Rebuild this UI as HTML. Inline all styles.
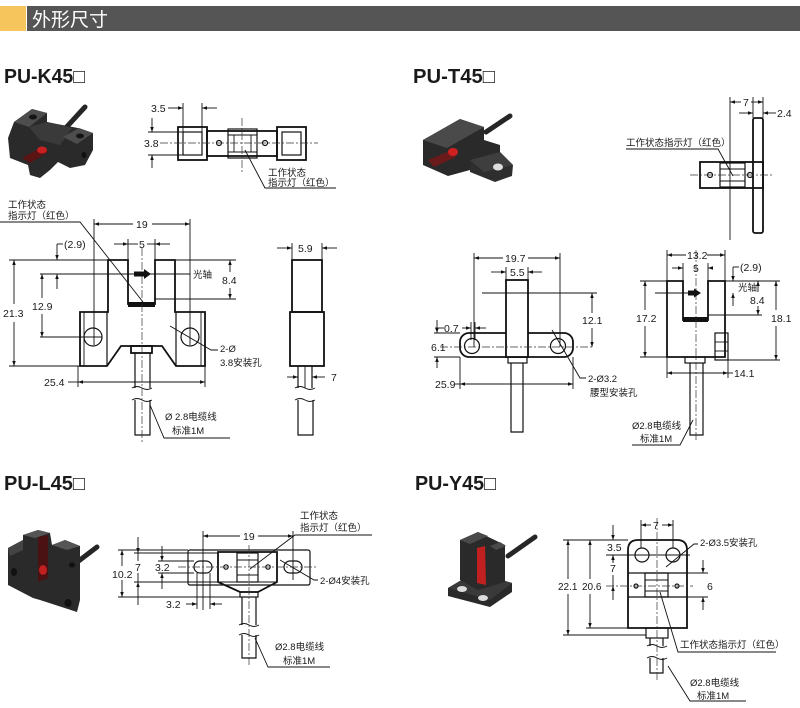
<!DOCTYPE html>
<html><head><meta charset="utf-8">
<style>
html,body{margin:0;padding:0;background:#fff;}
svg{display:block;}
text{font-family:"Liberation Sans","Noto Sans CJK SC",sans-serif;fill:#1a1a1a;}
.t{stroke:#111;stroke-width:.9;fill:none}
.k{stroke:#111;stroke-width:1.8;fill:none}
.m{stroke:#111;stroke-width:1.2;fill:none}
.c{stroke:#333;stroke-width:.7;fill:none;stroke-dasharray:8 2 2 2}
.d{stroke:#111;stroke-width:.9;fill:none;marker-start:url(#a);marker-end:url(#a)}
.e{stroke:#111;stroke-width:.9;fill:none;marker-end:url(#a)}
.s{font-size:10.5px}
.l{font-size:9.5px}
.h{font-size:20px;font-weight:bold;fill:#1a1a1a}
</style></head><body>
<svg width="800" height="708" viewBox="0 0 800 708" xmlns="http://www.w3.org/2000/svg">
<defs><marker id="a" viewBox="0 0 10 10" refX="10" refY="5" markerWidth="6" markerHeight="5" markerUnits="userSpaceOnUse" orient="auto-start-reverse"><path d="M0,1.5L10,5L0,8.5z" fill="#111"/></marker></defs>

<!-- Header -->
<rect x="0" y="6" width="26" height="25" fill="#f6c55c"/>
<rect x="27" y="6" width="773" height="25" fill="#555"/>
<text x="32" y="26" style="font-size:19px;fill:#fff">外形尺寸</text>

<!-- Titles -->
<text class="h" x="4" y="83" textLength="81" lengthAdjust="spacingAndGlyphs">PU-K45□</text>
<text class="h" x="413" y="83" textLength="82" lengthAdjust="spacingAndGlyphs">PU-T45□</text>
<text class="h" x="4" y="490" textLength="81" lengthAdjust="spacingAndGlyphs">PU-L45□</text>
<text class="h" x="415" y="490" textLength="81" lengthAdjust="spacingAndGlyphs">PU-Y45□</text>

<!-- ========== K45 photo ========== -->
<line x1="85" y1="107" x2="62" y2="132" stroke="#262626" stroke-width="5" stroke-linecap="round"/>
<polygon points="8,138 14,122 32,109 47,113 47,122 62,125 78,128 93,133 93,150 85,165 70,168 58,162 50,170 40,178 30,175 28,165 10,158" fill="#2a2a2a"/>
<polygon points="14,122 32,109 47,113 29,127" fill="#4d4d4d"/>
<polygon points="29,127 47,122 72,128 60,145 40,140" fill="#3a3a3a"/>
<polygon points="63,137 79,128 93,133 77,144" fill="#4d4d4d"/>
<ellipse cx="33" cy="117" rx="4" ry="2.5" fill="#151515"/>
<ellipse cx="80" cy="136" rx="4" ry="2.5" fill="#151515"/>
<polygon points="22,158 40,148 48,152 30,163" fill="#5a1414"/>
<ellipse cx="42" cy="150" rx="5" ry="3.5" fill="#c82020"/>
<ellipse cx="84" cy="155" rx="2.5" ry="3" fill="#111"/>

<!-- ========== K45 top view ========== -->
<text class="s" x="151" y="112">3.5</text>
<line class="e" x1="168" y1="108" x2="183" y2="108"/>
<line class="e" x1="217" y1="108" x2="202" y2="108"/>
<line class="t" x1="183" y1="103" x2="183" y2="132"/>
<line class="t" x1="202" y1="103" x2="202" y2="132"/>
<text class="s" x="144" y="147">3.8</text>
<line class="e" x1="152" y1="118" x2="152" y2="132"/>
<line class="e" x1="152" y1="168" x2="152" y2="155"/>
<line class="t" x1="148" y1="132" x2="183" y2="132"/>
<line class="t" x1="148" y1="155" x2="183" y2="155"/>
<rect class="k" x="178" y="127" width="29" height="33"/>
<rect class="k" x="207" y="131" width="70" height="25"/>
<rect class="k" x="277" y="127" width="29" height="33"/>
<rect class="m" x="183" y="132" width="19" height="23"/>
<rect class="m" x="282" y="132" width="19" height="23"/>
<rect class="m" x="228" y="129" width="29" height="29"/>
<line class="t" x1="228" y1="135" x2="257" y2="135"/>
<line class="t" x1="228" y1="152" x2="257" y2="152"/>
<line class="t" x1="234" y1="135" x2="234" y2="152"/>
<line class="t" x1="251" y1="135" x2="251" y2="152"/>
<circle class="m" cx="219" cy="143" r="2.5"/>
<circle class="m" cx="265" cy="143" r="2.5"/>
<line class="c" x1="160" y1="143" x2="318" y2="143"/>
<line class="c" x1="242" y1="118" x2="242" y2="172"/>
<polyline class="t" points="245,150 265,188 336,188"/>
<text class="l" x="268" y="176">工作状态</text>
<text class="l" x="268" y="186">指示灯（红色）</text>

<!-- ========== K45 front view ========== -->
<text class="l" x="8" y="208">工作状态</text>
<text class="l" x="8" y="219">指示灯（红色）</text>
<polyline class="t" points="0,222 80,222 143,302"/>
<line class="e" x1="133" y1="224" x2="94" y2="224"/>
<line class="e" x1="152" y1="224" x2="190" y2="224"/>
<text class="s" x="136" y="228">19</text>
<line class="t" x1="94" y1="219" x2="94" y2="345"/>
<line class="t" x1="190" y1="219" x2="190" y2="345"/>
<line class="e" x1="114" y1="244" x2="128" y2="244"/>
<line class="e" x1="170" y1="244" x2="155" y2="244"/>
<line class="t" x1="128" y1="244" x2="138" y2="244"/>
<line class="t" x1="147" y1="244" x2="155" y2="244"/>
<text class="s" x="139" y="248">5</text>
<line class="t" x1="128" y1="239" x2="128" y2="260"/>
<line class="t" x1="155" y1="239" x2="155" y2="260"/>
<text class="s" x="64" y="248">(2.9)</text>
<line class="t" x1="57" y1="244" x2="63" y2="244"/>
<line class="e" x1="57" y1="244" x2="57" y2="260"/>
<line class="e" x1="57" y1="289" x2="57" y2="274"/>
<path class="k" d="M80,312 L108,312 L108,260 L128,260 L128,304 L155,304 L155,260 L175,260 L175,312 L205,312 L205,366 L176,366 L162,346 L121,346 L107,366 L80,366 Z"/>
<line class="m" x1="107" y1="312" x2="107" y2="366"/>
<line class="m" x1="176" y1="312" x2="176" y2="366"/>
<line class="t" x1="84" y1="312" x2="84" y2="366"/>
<line class="t" x1="201" y1="312" x2="201" y2="366"/>
<rect x="128" y="302" width="27" height="5" fill="#111"/>
<circle class="m" cx="93" cy="337" r="9"/>
<circle class="m" cx="190" cy="337" r="9"/>
<rect class="k" x="131" y="346" width="21" height="7"/>
<line class="m" x1="135" y1="353" x2="135" y2="388"/>
<line class="m" x1="150" y1="353" x2="150" y2="388"/>
<path class="t" d="M132,388 q5,-3 10,0 t10,0 M132,400 q5,-3 10,0 t10,0"/>
<path class="m" d="M135,400 L135,435 L150,435 L150,400"/>
<line class="c" x1="142" y1="248" x2="142" y2="442"/>
<line class="t" x1="40" y1="274" x2="190" y2="274"/>
<polygon points="134,271.5 144,271.5 144,269 151,274 144,279 144,276.5 134,276.5" fill="#111"/>
<text class="l" x="193" y="278">光轴</text>
<line class="t" x1="175" y1="260" x2="236" y2="260"/>
<line class="t" x1="155" y1="299" x2="236" y2="299"/>
<line class="e" x1="230" y1="272" x2="230" y2="260"/>
<line class="e" x1="230" y1="288" x2="230" y2="299"/>
<text class="s" x="222" y="284">8.4</text>
<line class="t" x1="9" y1="260" x2="108" y2="260"/>
<line class="t" x1="9" y1="366" x2="80" y2="366"/>
<line class="e" x1="14" y1="304" x2="14" y2="260"/>
<line class="e" x1="14" y1="322" x2="14" y2="366"/>
<text class="s" x="3" y="317">21.3</text>
<line class="t" x1="40" y1="337" x2="102" y2="337"/>
<line class="e" x1="42" y1="298" x2="42" y2="274"/>
<line class="e" x1="42" y1="314" x2="42" y2="337"/>
<text class="s" x="32" y="310">12.9</text>
<line class="t" x1="78" y1="366" x2="78" y2="387"/>
<line class="t" x1="205" y1="366" x2="205" y2="387"/>
<line class="d" x1="78" y1="382" x2="205" y2="382"/>
<line class="t" x1="68" y1="382" x2="78" y2="382"/>
<text class="s" x="44" y="386">25.4</text>
<polyline class="t" points="170,326 211,350 218,350"/>
<text class="l" x="220" y="352">2-Ø</text>
<text class="l" x="220" y="366">3.8安装孔</text>
<polyline class="t" points="150,405 164,438 230,438"/>
<text class="l" x="165" y="420">Ø 2.8电缆线</text>
<text class="l" x="172" y="434">标准1M</text>

<!-- ========== K45 side view ========== -->
<line class="e" x1="277" y1="248" x2="292" y2="248"/>
<line class="e" x1="337" y1="248" x2="322" y2="248"/>
<text class="s" x="298" y="252">5.9</text>
<line class="t" x1="292" y1="243" x2="292" y2="260"/>
<line class="t" x1="322" y1="243" x2="322" y2="260"/>
<rect class="k" x="292" y="260" width="30" height="52"/>
<rect class="k" x="290" y="312" width="34" height="54"/>
<line class="m" x1="298" y1="366" x2="298" y2="388"/>
<line class="m" x1="312" y1="366" x2="312" y2="388"/>
<line class="t" x1="305" y1="366" x2="305" y2="388"/>
<path class="t" d="M295,388 q5,-3 10,0 t10,0 M295,400 q5,-3 10,0 t10,0"/>
<path class="m" d="M298,400 L298,435 L313,435 L313,400"/>
<line class="e" x1="287" y1="377" x2="298" y2="377"/>
<line class="e" x1="325" y1="377" x2="312" y2="377"/>
<text class="s" x="331" y="381">7</text>

<!-- ========== T45 photo ========== -->
<line x1="510" y1="116" x2="486" y2="132" stroke="#262626" stroke-width="5" stroke-linecap="round"/>
<polygon points="423,140 460,119 484,127 484,140 500,145 500,158 470,170 448,176 423,165" fill="#2a2a2a"/>
<polygon points="423,140 460,119 484,127 447,148" fill="#4a4a4a"/>
<polygon points="470,160 500,152 513,165 512,176 495,182 470,172" fill="#2e2e2e"/>
<polygon points="470,160 500,152 513,165 484,172" fill="#3e3e3e"/>
<ellipse cx="498" cy="167" rx="5" ry="3.5" fill="#ddd"/>
<polygon points="428,160 450,151 456,157 434,167" fill="#6a1a1a"/>
<ellipse cx="453" cy="152" rx="5" ry="4" fill="#d02020"/>

<!-- ========== T45 top side view ========== -->
<line class="e" x1="741" y1="102" x2="730" y2="102"/>
<line class="e" x1="751" y1="102" x2="763" y2="102"/>
<text class="s" x="743" y="106">7</text>
<line class="t" x1="730" y1="97" x2="730" y2="240"/>
<line class="t" x1="753" y1="97" x2="753" y2="118"/>
<line class="t" x1="763" y1="97" x2="763" y2="118"/>
<line class="e" x1="739" y1="113" x2="753" y2="113"/>
<line class="e" x1="776" y1="113" x2="763" y2="113"/>
<text class="s" x="777" y="117">2.4</text>
<rect class="k" x="753" y="118" width="10" height="115" rx="2"/>
<rect class="k" x="700" y="162" width="63" height="26"/>
<rect class="m" x="720" y="163" width="25" height="24"/>
<line class="t" x1="720" y1="169" x2="745" y2="169"/>
<line class="t" x1="720" y1="181" x2="745" y2="181"/>
<circle class="m" cx="710" cy="175" r="2.5"/>
<circle class="m" cx="750" cy="175" r="2.5"/>
<line class="c" x1="690" y1="175" x2="772" y2="175"/>
<text class="l" x="626" y="146">工作状态指示灯（红色）</text>
<polyline class="t" points="626,149 718,149 733,176"/>

<!-- ========== T45 front view ========== -->
<line class="e" x1="503" y1="258" x2="474" y2="258"/>
<line class="e" x1="528" y1="258" x2="560" y2="258"/>
<text class="s" x="505" y="262">19.7</text>
<line class="t" x1="474" y1="253" x2="474" y2="347"/>
<line class="t" x1="560" y1="253" x2="560" y2="347"/>
<line class="e" x1="491" y1="272" x2="506" y2="272"/>
<line class="e" x1="542" y1="272" x2="528" y2="272"/>
<text class="s" x="510" y="276">5.5</text>
<line class="t" x1="506" y1="267" x2="506" y2="280"/>
<line class="t" x1="528" y1="267" x2="528" y2="280"/>
<rect class="k" x="460" y="333" width="113" height="24" rx="9"/>
<rect x="506" y="280" width="22" height="77" fill="#fff" stroke="#111" stroke-width="1.8"/>
<circle class="m" cx="472" cy="346" r="7.5"/>
<circle class="m" cx="558" cy="346" r="7.5"/>
<rect class="m" x="508" y="357" width="19" height="6"/>
<path class="m" d="M511,363 L511,432 L523,432 L523,363"/>
<line class="c" x1="440" y1="347" x2="592" y2="347"/>
<line class="t" x1="482" y1="293" x2="597" y2="293"/>
<line class="e" x1="592" y1="313" x2="592" y2="293"/>
<line class="e" x1="592" y1="328" x2="592" y2="347"/>
<text class="s" x="582" y="324">12.1</text>
<line class="t" x1="435" y1="328" x2="444" y2="328"/>
<text class="s" x="444" y="332">0.7</text>
<line class="e" x1="462" y1="328" x2="471" y2="328"/>
<line class="e" x1="486" y1="328" x2="475" y2="328"/>
<line class="t" x1="471" y1="322" x2="471" y2="340"/>
<line class="t" x1="475" y1="322" x2="475" y2="340"/>
<line class="t" x1="434" y1="333" x2="460" y2="333"/>
<line class="t" x1="434" y1="357" x2="460" y2="357"/>
<line class="e" x1="437" y1="320" x2="437" y2="333"/>
<line class="e" x1="437" y1="368" x2="437" y2="357"/>
<text class="s" x="431" y="351">6.1</text>
<line class="t" x1="460" y1="357" x2="460" y2="389"/>
<line class="t" x1="573" y1="357" x2="573" y2="389"/>
<line class="d" x1="460" y1="384" x2="573" y2="384"/>
<line class="t" x1="455" y1="384" x2="460" y2="384"/>
<text class="s" x="435" y="388">25.9</text>
<polyline class="t" points="552,330 580,378 586,378"/>
<text class="l" x="588" y="382">2-Ø3.2</text>
<text class="l" x="590" y="396">腰型安装孔</text>

<!-- ========== T45 right view ========== -->
<line class="e" x1="686" y1="255" x2="667" y2="255"/>
<line class="e" x1="707" y1="255" x2="725" y2="255"/>
<text class="s" x="687" y="259">13.2</text>
<line class="t" x1="667" y1="250" x2="667" y2="378"/>
<line class="t" x1="725" y1="250" x2="725" y2="281"/>
<line class="e" x1="672" y1="268" x2="683" y2="268"/>
<line class="e" x1="713" y1="268" x2="708" y2="268"/>
<text class="s" x="693" y="272">5</text>
<line class="t" x1="683" y1="263" x2="683" y2="281"/>
<line class="t" x1="708" y1="263" x2="708" y2="281"/>
<text class="s" x="740" y="271">(2.9)</text>
<line class="t" x1="733" y1="267" x2="739" y2="267"/>
<line class="e" x1="733" y1="267" x2="733" y2="281"/>
<line class="e" x1="733" y1="306" x2="733" y2="293"/>
<path class="k" d="M667,281 L683,281 L683,320 L708,320 L708,281 L725,281 L725,357 L667,357 Z"/>
<rect x="683" y="317" width="25" height="5" fill="#111"/>
<rect class="m" x="715" y="333" width="13" height="27"/>
<line class="t" x1="715" y1="342" x2="728" y2="342"/>
<line class="t" x1="715" y1="351" x2="728" y2="351"/>
<rect class="m" x="685" y="357" width="20" height="6"/>
<path class="m" d="M690,363 L690,435 L703,435 L703,363"/>
<line class="c" x1="696" y1="250" x2="696" y2="442"/>
<line class="t" x1="655" y1="293" x2="700" y2="293"/>
<polygon points="688,290.5 694,290.5 694,288.5 701,293 694,297.5 694,295.5 688,295.5" fill="#111"/>
<text class="l" x="738" y="291">光轴</text>
<line class="t" x1="725" y1="281" x2="780" y2="281"/>
<line class="t" x1="708" y1="315" x2="762" y2="315"/>
<line class="e" x1="758" y1="292" x2="758" y2="281"/>
<line class="e" x1="758" y1="306" x2="758" y2="315"/>
<text class="s" x="750" y="304">8.4</text>
<line class="t" x1="640" y1="281" x2="667" y2="281"/>
<line class="t" x1="640" y1="357" x2="667" y2="357"/>
<line class="e" x1="645" y1="310" x2="645" y2="281"/>
<line class="e" x1="645" y1="326" x2="645" y2="357"/>
<text class="s" x="636" y="322">17.2</text>
<line class="t" x1="728" y1="360" x2="780" y2="360"/>
<line class="e" x1="776" y1="310" x2="776" y2="281"/>
<line class="e" x1="776" y1="326" x2="776" y2="360"/>
<text class="s" x="771" y="322">18.1</text>
<line class="t" x1="728" y1="360" x2="728" y2="378"/>
<line class="d" x1="667" y1="373" x2="728" y2="373"/>
<line class="t" x1="728" y1="373" x2="733" y2="373"/>
<text class="s" x="734" y="377">14.1</text>
<text class="l" x="632" y="429">Ø2.8电缆线</text>
<text class="l" x="640" y="442">标准1M</text>
<polyline class="t" points="632,445 680,445 693,420"/>

<!-- ========== L45 photo ========== -->
<line x1="97" y1="547" x2="76" y2="563" stroke="#262626" stroke-width="5" stroke-linecap="round"/>
<polygon points="8,548 23,540 23,535 38,530 50,533 52,545 65,540 80,546 80,600 77,612 40,600 33,598 8,585" fill="#2a2a2a"/>
<polygon points="23,535 38,530 50,533 35,538" fill="#555"/>
<polygon points="52,545 65,540 80,546 67,550" fill="#555"/>
<polygon points="8,548 23,540 23,550 10,556" fill="#444"/>
<polygon points="38,537 48,535 48,578 38,582" fill="#4a1212"/>
<ellipse cx="43" cy="570" rx="4" ry="5" fill="#c02020"/>
<ellipse cx="14" cy="572" rx="3" ry="4" fill="#111"/>
<ellipse cx="68" cy="603" rx="3.5" ry="4" fill="#111"/>
<ellipse cx="72" cy="565" rx="3" ry="2.5" fill="#111"/>

<!-- ========== L45 top view ========== -->
<line class="e" x1="240" y1="536" x2="203" y2="536"/>
<line class="e" x1="258" y1="536" x2="293" y2="536"/>
<text class="s" x="243" y="540">19</text>
<line class="t" x1="203" y1="531" x2="203" y2="610"/>
<line class="t" x1="293" y1="531" x2="293" y2="580"/>
<text class="l" x="300" y="519">工作状态</text>
<text class="l" x="300" y="531">指示灯（红色）</text>
<polyline class="t" points="372,535 295,535 250,569"/>
<rect class="m" x="188" y="550" width="122" height="35" rx="2"/>
<path class="k" d="M218,552 L277,552 L277,582 L258,592 L240,592 L218,582 Z" fill="#fff"/>
<line class="t" x1="218" y1="582" x2="277" y2="582"/>
<rect class="m" x="237" y="553" width="21" height="29"/>
<line class="t" x1="237" y1="560" x2="258" y2="560"/>
<line class="t" x1="237" y1="575" x2="258" y2="575"/>
<rect class="m" x="194" y="561" width="18" height="12" rx="6"/>
<rect class="m" x="284" y="561" width="18" height="12" rx="6"/>
<circle class="m" cx="226" cy="567" r="2.2"/>
<circle class="m" cx="268" cy="567" r="2.2"/>
<rect class="m" x="240" y="592" width="18" height="5"/>
<path class="m" d="M242,597 L242,625 M256,597 L256,625"/>
<path class="t" d="M239,625 q5,-3 10,0 t10,0 M239,635 q5,-3 10,0 t10,0"/>
<path class="m" d="M242,635 L242,658 L256,658 L256,635"/>
<line class="c" x1="178" y1="567" x2="318" y2="567"/>
<line class="c" x1="249" y1="545" x2="249" y2="665"/>
<line class="t" x1="118" y1="550" x2="188" y2="550"/>
<line class="t" x1="118" y1="597" x2="240" y2="597"/>
<line class="e" x1="122" y1="566" x2="122" y2="550"/>
<line class="e" x1="122" y1="580" x2="122" y2="597"/>
<text class="s" x="112" y="578">10.2</text>
<line class="t" x1="134" y1="553" x2="218" y2="553"/>
<line class="t" x1="134" y1="582" x2="218" y2="582"/>
<line class="e" x1="138" y1="537" x2="138" y2="553"/>
<line class="e" x1="138" y1="605" x2="138" y2="582"/>
<line class="t" x1="138" y1="553" x2="138" y2="561"/>
<line class="t" x1="138" y1="573" x2="138" y2="582"/>
<text class="s" x="135" y="571">7</text>
<line class="t" x1="158" y1="561" x2="194" y2="561"/>
<line class="t" x1="158" y1="573" x2="194" y2="573"/>
<line class="e" x1="162" y1="546" x2="162" y2="561"/>
<line class="e" x1="162" y1="589" x2="162" y2="573"/>
<text class="s" x="155" y="571">3.2</text>
<line class="t" x1="197" y1="573" x2="197" y2="609"/>
<line class="t" x1="210" y1="573" x2="210" y2="609"/>
<line class="e" x1="186" y1="604" x2="197" y2="604"/>
<line class="e" x1="222" y1="604" x2="210" y2="604"/>
<text class="s" x="166" y="608">3.2</text>
<polyline class="t" points="280,560 314,580 318,580"/>
<text class="l" x="320" y="584">2-Ø4安装孔</text>
<polyline class="t" points="255,638 268,667 330,667"/>
<text class="l" x="275" y="650">Ø2.8电缆线</text>
<text class="l" x="283" y="664">标准1M</text>

<!-- ========== Y45 photo ========== -->
<line x1="535" y1="537" x2="508" y2="556" stroke="#262626" stroke-width="5" stroke-linecap="round"/>
<polygon points="448,588 475,572 512,583 512,592 490,607 448,596" fill="#2a2a2a"/>
<polygon points="448,588 475,572 512,583 490,600" fill="#3a3a3a"/>
<ellipse cx="462" cy="589" rx="5" ry="3" fill="#ddd"/>
<ellipse cx="483" cy="598" rx="5" ry="3" fill="#ddd"/>
<polygon points="460,540 478,532 505,545 505,582 478,590 460,580" fill="#2a2a2a"/>
<polygon points="460,540 478,532 488,536 470,544" fill="#4a4a4a"/>
<polygon points="490,546 500,542 506,546 496,550" fill="#4a4a4a"/>
<polygon points="477,548 485,546 486,585 477,583" fill="#c02020"/>

<!-- ========== Y45 front ========== -->
<line class="e" x1="651" y1="525" x2="641" y2="525"/>
<line class="e" x1="662" y1="525" x2="673" y2="525"/>
<text class="s" x="653" y="529">7</text>
<line class="t" x1="641" y1="520" x2="641" y2="548"/>
<line class="t" x1="673" y1="520" x2="673" y2="548"/>
<path class="k" d="M628,628 L628,550 Q628,540 638,540 L677,540 Q687,540 687,550 L687,628 Z"/>
<line class="m" x1="628" y1="573" x2="687" y2="573"/>
<line class="m" x1="628" y1="597" x2="687" y2="597"/>
<rect class="m" x="645" y="573" width="23" height="24"/>
<line class="t" x1="645" y1="580" x2="668" y2="580"/>
<line class="t" x1="645" y1="591" x2="668" y2="591"/>
<circle class="m" cx="642" cy="555" r="7"/>
<circle class="m" cx="673" cy="555" r="7"/>
<circle class="m" cx="636" cy="586" r="2"/>
<circle class="m" cx="677" cy="586" r="2"/>
<rect class="m" x="646" y="628" width="22" height="10"/>
<path class="m" d="M650,638 L650,646 M663,638 L663,646"/>
<path class="t" d="M647,646 q5,-3 10,0 t10,0 M647,658 q5,-3 10,0 t10,0"/>
<path class="m" d="M650,658 L650,673 L663,673 L663,658"/>
<line class="c" x1="657" y1="518" x2="657" y2="680"/>
<line class="c" x1="606" y1="586" x2="693" y2="586"/>
<line class="t" x1="606" y1="555" x2="690" y2="555"/>
<line class="t" x1="563" y1="540" x2="628" y2="540"/>
<line class="t" x1="563" y1="635" x2="646" y2="635"/>
<line class="e" x1="568" y1="579" x2="568" y2="540"/>
<line class="e" x1="568" y1="594" x2="568" y2="635"/>
<text x="558" y="590" style="font-size:10px">22.1</text>
<line class="t" x1="586" y1="628" x2="628" y2="628"/>
<line class="e" x1="590" y1="579" x2="590" y2="540"/>
<line class="e" x1="590" y1="594" x2="590" y2="628"/>
<text x="582" y="590" style="font-size:10px">20.6</text>
<line class="e" x1="613" y1="525" x2="613" y2="540"/>
<line class="t" x1="613" y1="555" x2="613" y2="562"/>
<text class="s" x="607" y="551">3.5</text>
<line class="e" x1="613" y1="563" x2="613" y2="555"/>
<line class="t" x1="613" y1="575" x2="613" y2="586"/>
<line class="e" x1="613" y1="600" x2="613" y2="586"/>
<text class="s" x="610" y="572">7</text>
<line class="t" x1="687" y1="573" x2="708" y2="573"/>
<line class="t" x1="687" y1="597" x2="708" y2="597"/>
<line class="e" x1="703" y1="560" x2="703" y2="573"/>
<line class="e" x1="703" y1="610" x2="703" y2="597"/>
<text class="s" x="707" y="590">6</text>
<polyline class="t" points="666,567 694,544 698,544"/>
<text class="l" x="700" y="546">2-Ø3.5安装孔</text>
<polyline class="t" points="660,592 678,652 776,652"/>
<text class="l" x="680" y="648">工作状态指示灯（红色）</text>
<polyline class="t" points="668,666 690,701 746,701"/>
<text class="l" x="690" y="686">Ø2.8电缆线</text>
<text class="l" x="697" y="699">标准1M</text>
</svg>
</body></html>
